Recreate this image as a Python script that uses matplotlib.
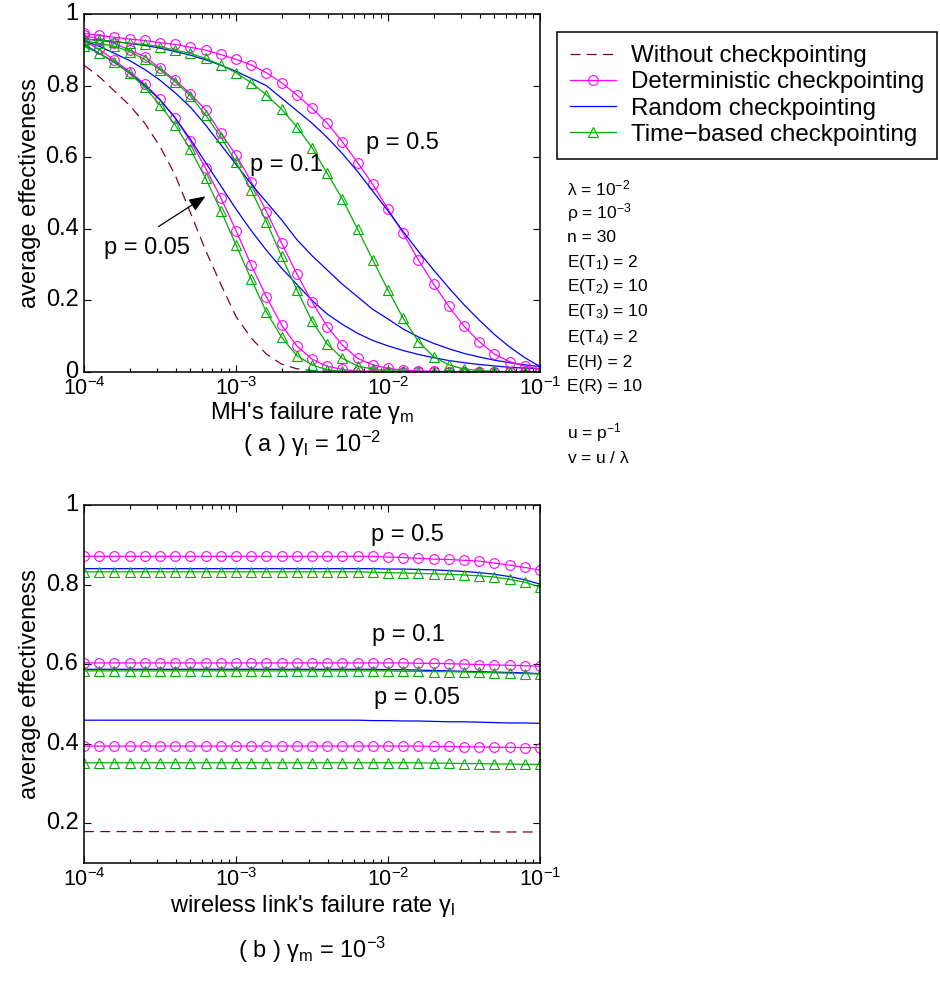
import numpy as np
import matplotlib
matplotlib.use("Agg")
import matplotlib.pyplot as plt
from matplotlib.lines import Line2D
from matplotlib.ticker import FuncFormatter, LogLocator

plt.rcParams['font.family'] = ['Liberation Sans', 'DejaVu Sans']
plt.rcParams['mathtext.fontset'] = 'custom'
plt.rcParams['mathtext.rm'] = 'Liberation Sans'
plt.rcParams['mathtext.it'] = 'Liberation Sans'
plt.rcParams['mathtext.bf'] = 'Liberation Sans:bold'

# failure-rate grid (31 points, 10 per decade)
rate = np.logspace(-4, -1, 31)

# (a) varying MH failure rate, gamma_l = 1e-2
none_a = [0.857, 0.825, 0.785, 0.745, 0.695, 0.63, 0.55, 0.445, 0.34, 0.245, 0.155,
          0.095, 0.05, 0.022, 0.009, 0.004, 0.002, 0.001, 0.001, 0, 0, 0, 0, 0, 0,
          0, 0, 0, 0, 0, 0]
det_a_05 = [0.925, 0.901, 0.871, 0.839, 0.804, 0.762, 0.709, 0.645, 0.569, 0.487, 0.395,
            0.299, 0.21, 0.131, 0.073, 0.036, 0.016, 0.007, 0.003, 0.002, 0.001, 0.001,
            0, 0, 0, 0, 0, 0, 0, 0, 0]
rnd_a_05 = [0.915, 0.89, 0.865, 0.835, 0.80, 0.76, 0.71, 0.65, 0.585, 0.52, 0.455,
            0.395, 0.34, 0.29, 0.245, 0.2, 0.162, 0.133, 0.108, 0.088, 0.073, 0.06,
            0.049, 0.04, 0.032, 0.026, 0.021, 0.017, 0.013, 0.011, 0.009]
tim_a_05 = [0.91, 0.89, 0.867, 0.834, 0.795, 0.746, 0.69, 0.622, 0.541, 0.451, 0.355,
            0.259, 0.168, 0.097, 0.046, 0.02, 0.006, 0.002, 0.001, 0, 0, 0, 0, 0, 0,
            0, 0, 0, 0, 0, 0]
det_a_1 = [0.94, 0.93, 0.918, 0.899, 0.881, 0.848, 0.816, 0.777, 0.732, 0.667, 0.606,
           0.532, 0.448, 0.36, 0.274, 0.196, 0.127, 0.075, 0.038, 0.02, 0.01, 0.005,
           0.003, 0.002, 0.001, 0.001, 0, 0, 0, 0, 0]
rnd_a_1 = [0.925, 0.91, 0.89, 0.87, 0.845, 0.815, 0.78, 0.74, 0.69, 0.635, 0.58,
           0.525, 0.475, 0.425, 0.37, 0.325, 0.285, 0.245, 0.21, 0.175, 0.148, 0.12,
           0.098, 0.08, 0.065, 0.052, 0.042, 0.033, 0.026, 0.02, 0.015]
tim_a_1 = [0.925, 0.918, 0.91, 0.895, 0.873, 0.844, 0.811, 0.771, 0.718, 0.657, 0.587,
           0.508, 0.42, 0.323, 0.23, 0.142, 0.078, 0.038, 0.017, 0.008, 0.004, 0.002,
           0.001, 0, 0, 0, 0, 0, 0, 0, 0]
det_a_5 = [0.946, 0.94, 0.935, 0.93, 0.926, 0.92, 0.915, 0.907, 0.899, 0.887, 0.873,
           0.858, 0.836, 0.808, 0.774, 0.737, 0.695, 0.643, 0.585, 0.524, 0.455, 0.387,
           0.313, 0.246, 0.183, 0.128, 0.085, 0.05, 0.029, 0.016, 0.008]
rnd_a_5 = [0.93, 0.927, 0.923, 0.918, 0.912, 0.905, 0.895, 0.885, 0.872, 0.857, 0.84,
           0.82, 0.80, 0.765, 0.73, 0.695, 0.655, 0.61, 0.56, 0.505, 0.45, 0.392,
           0.337, 0.285, 0.235, 0.188, 0.145, 0.105, 0.07, 0.04, 0.015]
tim_a_5 = [0.93, 0.927, 0.923, 0.918, 0.915, 0.909, 0.899, 0.89, 0.876, 0.858, 0.836,
           0.808, 0.774, 0.734, 0.685, 0.627, 0.555, 0.483, 0.399, 0.313, 0.229, 0.15,
           0.085, 0.043, 0.02, 0.008, 0.004, 0.002, 0.001, 0.001, 0.001]

# (b) varying wireless link failure rate, gamma_m = 1e-3
none_b = [0.179] * 25 + [0.179, 0.179, 0.178, 0.178, 0.178, 0.178]
det_b_05 = [0.394] * 22 + [0.394, 0.393, 0.393, 0.392, 0.392, 0.391, 0.391, 0.390, 0.390]
rnd_b_05 = [0.459] * 18 + [0.459, 0.458, 0.458, 0.457, 0.457, 0.456, 0.455, 0.455,
                           0.454, 0.453, 0.452, 0.452, 0.451]
tim_b_05 = [0.352] * 22 + [0.352, 0.351, 0.351, 0.350, 0.350, 0.349, 0.349, 0.348, 0.348]
det_b_1 = [0.603] * 22 + [0.602, 0.602, 0.601, 0.600, 0.599, 0.598, 0.597, 0.596, 0.595]
rnd_b_1 = [0.587] * 20 + [0.586, 0.586, 0.585, 0.584, 0.583, 0.582, 0.581, 0.580,
                          0.579, 0.578, 0.576]
tim_b_1 = [0.583] * 20 + [0.583, 0.582, 0.582, 0.581, 0.581, 0.580, 0.579, 0.578,
                          0.577, 0.576, 0.575]
det_b_5 = [0.871] * 20 + [0.869, 0.868, 0.866, 0.864, 0.863, 0.861, 0.859, 0.854,
                          0.849, 0.843, 0.836]
rnd_b_5 = [0.840] * 20 + [0.839, 0.839, 0.838, 0.837, 0.835, 0.833, 0.830, 0.826,
                          0.820, 0.812, 0.801]
tim_b_5 = [0.832] * 19 + [0.831, 0.830, 0.829, 0.828, 0.827, 0.826, 0.824, 0.822,
                          0.819, 0.813, 0.806, 0.794]

params = [r"$\lambda$ = 10$^{-2}$", r"$\rho$ = 10$^{-3}$", "n = 30",
          r"E(T$_1$) = 2", r"E(T$_2$) = 10", r"E(T$_3$) = 10", r"E(T$_4$) = 2",
          "E(H) = 2", "E(R) = 10", "", r"u = p$^{-1}$", r"v = u / $\lambda$"]

C_NONE = '#800033'
C_DET = '#ff00ff'
C_RND = '#0000ff'
C_TIM = '#00b000'
FS = 17

fig = plt.figure(figsize=(9.4, 9.82), dpi=100)
W, H = 940.0, 982.0


def fig_axes(left, top, right, bottom):
    return fig.add_axes([left / W, 1 - bottom / H, (right - left) / W, (bottom - top) / H])


def draw_group(ax, det, rnd, tim):
    ax.plot(rate, det, color=C_DET, lw=0.9, marker='o', ms=7, mfc='none', mew=0.8)
    ax.plot(rate, rnd, color=C_RND, lw=0.9)
    ax.plot(rate, tim, color=C_TIM, lw=0.9, marker='^', ms=7.5, mfc='none', mew=0.8)


def style_axes(ax, ylo):
    ax.set_xscale('log')
    ax.set_xlim(1e-4, 1e-1)
    ax.set_ylim(ylo, 1)
    ax.set_yticks([0, 0.2, 0.4, 0.6, 0.8, 1] if ylo == 0 else [0.2, 0.4, 0.6, 0.8, 1])
    ax.yaxis.set_major_formatter(FuncFormatter(lambda v, p: '%g' % v))
    ax.xaxis.set_major_locator(LogLocator(base=10, numticks=10))
    ax.tick_params(which='both', direction='in', top=True, right=True)
    ax.tick_params(axis='y', labelsize=FS)
    ax.tick_params(axis='x', labelsize=15.5)
    ax.tick_params(which='major', length=5, width=0.8)
    ax.tick_params(axis='x', which='major', pad=3.5)
    ax.tick_params(axis='y', which='major', pad=4)
    ax.tick_params(which='minor', length=2.8, width=0.8)
    for lab in ax.get_yticklabels():
        lab.set_verticalalignment('center')
    for s in ax.spines.values():
        s.set_linewidth(1.1)


ax1 = fig_axes(84, 14, 540, 372)
ax1.plot(rate, none_a, color=C_NONE, lw=0.9, ls=(0, (8, 5)))
draw_group(ax1, det_a_05, rnd_a_05, tim_a_05)
draw_group(ax1, det_a_1, rnd_a_1, tim_a_1)
draw_group(ax1, det_a_5, rnd_a_5, tim_a_5)
style_axes(ax1, 0)
ax1.text(10 ** -2.147, 0.639, 'p = 0.5', fontsize=FS, va='center')
ax1.text(10 ** -2.908, 0.579, 'p = 0.1', fontsize=FS, va='center')
ax1.text(10 ** -3.87, 0.346, 'p = 0.05', fontsize=FS, va='center')
ax1.annotate('', xy=(10 ** -3.185, 0.495), xytext=(10 ** -3.525, 0.402),
             arrowprops=dict(arrowstyle='-|>,head_length=1.0,head_width=0.4',
                             color='black', lw=0.9))

ax2 = fig_axes(84, 505, 540, 863)
ax2.plot(rate, none_b, color=C_NONE, lw=0.9, ls=(0, (8, 5)))
draw_group(ax2, det_b_05, rnd_b_05, tim_b_05)
draw_group(ax2, det_b_1, rnd_b_1, tim_b_1)
draw_group(ax2, det_b_5, rnd_b_5, tim_b_5)
style_axes(ax2, 0.1)
ax2.text(10 ** -2.111, 0.924, 'p = 0.5', fontsize=FS, va='center')
ax2.text(10 ** -2.105, 0.673, 'p = 0.1', fontsize=FS, va='center')
ax2.text(10 ** -2.095, 0.514, 'p = 0.05', fontsize=FS, va='center')

# axis titles and captions
for ycen in (193, 684):
    fig.text(30 / W, 1 - ycen / H, 'average effectiveness', rotation=90,
             fontsize=FS, ha='center', va='center')
fig.text(312 / W, 1 - 413 / H, r"MH's failure rate $\gamma_\mathregular{m}$",
         fontsize=FS, ha='center', va='center')
fig.text(312 / W, 1 - 444 / H, r"( a ) $\gamma_\mathregular{l}$ = 10$^{-2}$",
         fontsize=FS, ha='center', va='center')
fig.text(312 / W, 1 - 906 / H, r"wireless link's failure rate $\gamma_\mathregular{l}$",
         fontsize=FS, ha='center', va='center')
fig.text(312 / W, 1 - 950 / H, r"( b ) $\gamma_\mathregular{m}$ = 10$^{-3}$",
         fontsize=FS, ha='center', va='center')

handles = [
    Line2D([], [], color=C_NONE, lw=0.9, ls=(0, (8, 5))),
    Line2D([], [], color=C_DET, lw=0.9, marker='o', ms=7, mfc='none', mew=0.8),
    Line2D([], [], color=C_RND, lw=0.9),
    Line2D([], [], color=C_TIM, lw=0.9, marker='^', ms=7.5, mfc='none', mew=0.8),
]
labels = ['Without checkpointing', 'Deterministic checkpointing',
          'Random checkpointing', 'Time\u2212based checkpointing']
leg = fig.legend(handles, labels, loc='upper left', bbox_to_anchor=(557 / W, 1 - 32 / H),
                 fontsize=17.4, numpoints=1, handlelength=1.9, handletextpad=0.6,
                 labelspacing=0.17, borderpad=0.55, borderaxespad=0,
                 fancybox=False, framealpha=1, edgecolor='black')
leg.get_frame().set_linewidth(1.1)

param_y = [188, 213, 237, 262, 287, 312, 337, 362, 387, 0, 433, 458]
for txt, yy in zip(params, param_y):
    if txt:
        fig.text(567 / W, 1 - yy / H, txt, fontsize=12.5, va='center')

fig.savefig('out.png', dpi=100)
